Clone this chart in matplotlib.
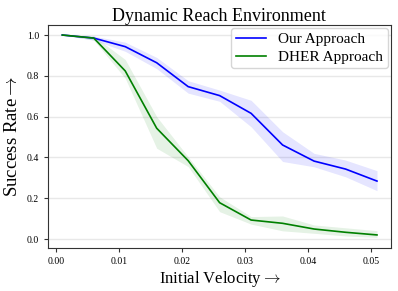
import numpy as np
import matplotlib.pyplot as plt

plt.rcParams['font.family'] = ['Liberation Serif', 'DejaVu Serif']
plt.rcParams['mathtext.fontset'] = 'cm'

# initial velocities
velocity = [0.001, 0.006, 0.011, 0.016, 0.021, 0.026, 0.031, 0.036, 0.041, 0.046, 0.051]

# Our Approach
ours_mean = [1.0, 0.985, 0.943, 0.864, 0.747, 0.703, 0.616, 0.461, 0.382, 0.343, 0.284]
ours_low = [1.0, 0.975, 0.92, 0.835, 0.715, 0.675, 0.55, 0.38, 0.354, 0.305, 0.237]
ours_high = [1.0, 0.995, 0.965, 0.89, 0.776, 0.73, 0.68, 0.526, 0.42, 0.387, 0.335]

# DHER Approach
dher_mean = [1.0, 0.985, 0.824, 0.543, 0.384, 0.178, 0.093, 0.077, 0.049, 0.033, 0.02]
dher_low = [1.0, 0.975, 0.788, 0.445, 0.355, 0.134, 0.073, 0.04, 0.028, 0.015, 0.008]
dher_high = [1.0, 0.995, 0.88, 0.6, 0.403, 0.207, 0.11, 0.113, 0.069, 0.055, 0.041]

fig = plt.figure(figsize=(3.98, 2.91), dpi=100)
ax = fig.add_axes([0.1206, 0.1478, 0.8614, 0.7662])

ax.fill_between(velocity, ours_low, ours_high, color='blue', alpha=0.1, lw=0)
ax.fill_between(velocity, dher_low, dher_high, color='green', alpha=0.1, lw=0)
ax.plot(velocity, ours_mean, color='blue', lw=1.2, label='Our Approach')
ax.plot(velocity, dher_mean, color='green', lw=1.2, label='DHER Approach')

ax.set_xlim(-0.00127, 0.0532)
ax.set_ylim(-0.044, 1.049)
ax.set_xticks([0.0, 0.01, 0.02, 0.03, 0.04, 0.05])
ax.set_yticks([0.0, 0.2, 0.4, 0.6, 0.8, 1.0])
ax.xaxis.set_major_formatter(plt.FormatStrFormatter('%.2f'))
ax.yaxis.set_major_formatter(plt.FormatStrFormatter('%.1f'))
ax.tick_params(labelsize=7, length=3, color='#333333')
ax.grid(axis='y', color='#e8e8e8', lw=1)
ax.set_axisbelow(True)
for s in ax.spines.values():
    s.set_color('#333333')

ax.set_title('Dynamic Reach Environment', fontsize=13, pad=3)
ax.set_xlabel('Initial Velocity$\\rightarrow$', fontsize=12, labelpad=2)
ax.set_ylabel('Success Rate$\\rightarrow$', fontsize=13.5, labelpad=4)
ax.legend(loc='upper right', fontsize=11, borderpad=0.3, labelspacing=0.25,
          handlelength=2.0, borderaxespad=0.2)

plt.savefig('out.png', dpi=100)
